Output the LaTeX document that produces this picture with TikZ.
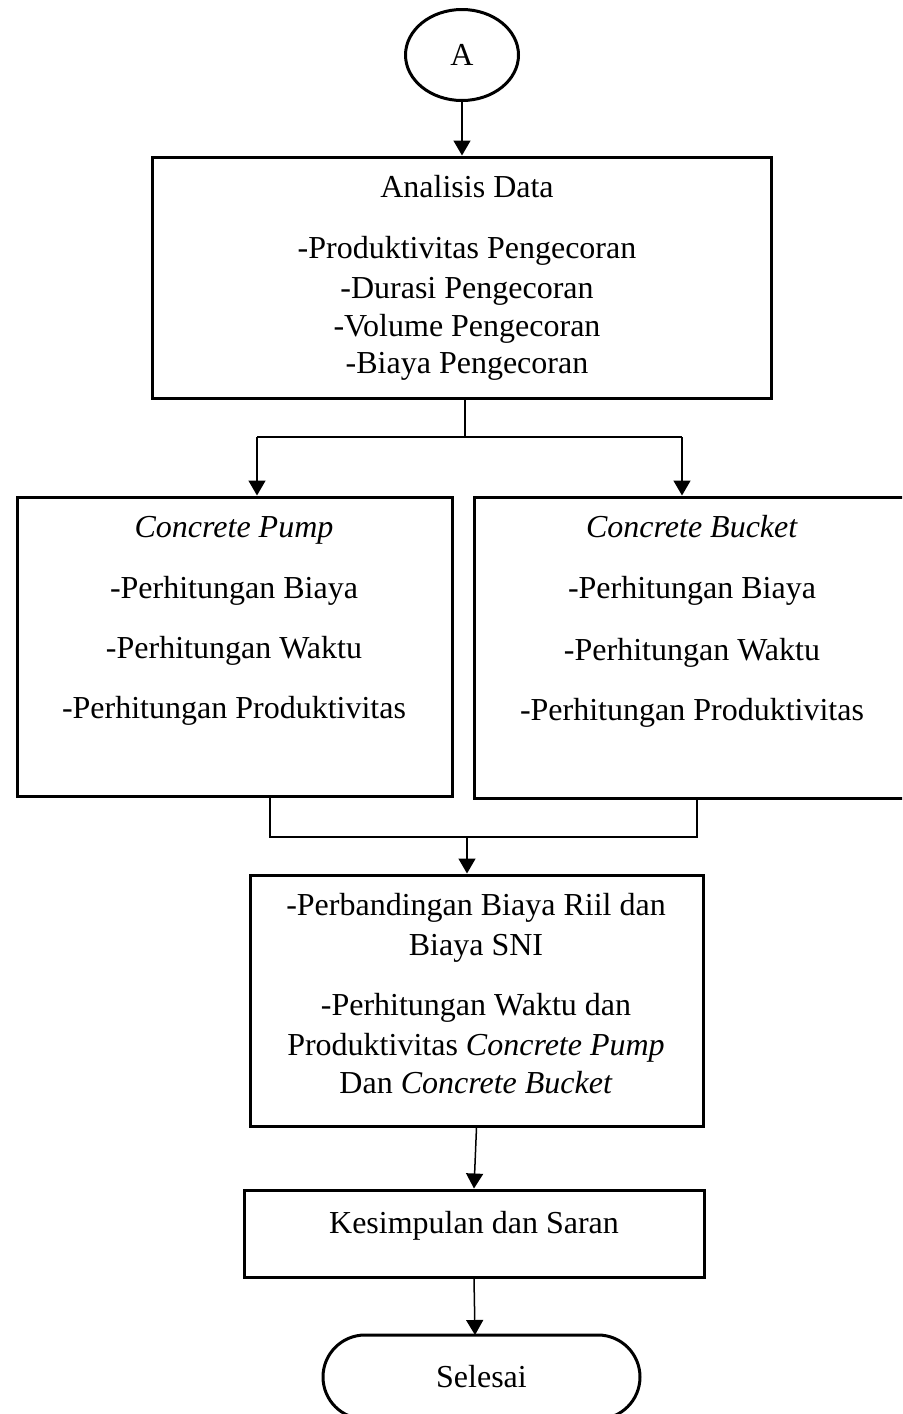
\documentclass[tikz,border=0pt]{standalone}
\usepackage{fontspec}
\setmainfont{Liberation Serif}
\usetikzlibrary{shapes.geometric,shapes.misc,arrows.meta}

\begin{document}
\begin{tikzpicture}[x=0.5pt, y=-0.5pt, >={Triangle[width=8.5pt,length=7.5pt]},
  box/.style={draw, line width=1.5pt, inner sep=0pt},
  txt/.style={anchor=base, inner sep=0pt, font=\fontsize{16}{19}\selectfont},
  line/.style={line width=0.75pt}]
  \useasboundingbox (0,0) rectangle (902,1414);
  \clip (0,0) rectangle (902,1414);

  % Connector A
  \node[box, ellipse, minimum width=56.5pt, minimum height=45.5pt,
        font=\fontsize{16}{19}\selectfont] (A) at (462,55) {A};

  % Analisis data
  \node[box, minimum width=309.5pt, minimum height=120.5pt] (analisis) at (461.5,277.5) {};
  \node[txt] (ana1) at (467,197) {Analisis Data};
  \node[txt] (ana2) at (467,258) {-Produktivitas Pengecoran};
  \node[txt] (ana3) at (467,298) {-Durasi Pengecoran};
  \node[txt] (ana4) at (467,336) {-Volume Pengecoran};
  \node[txt] (ana5) at (467,373) {-Biaya Pengecoran};

  % Concrete pump and concrete bucket
  \node[box, minimum width=217.5pt, minimum height=149.5pt] (pump) at (234.5,646.5) {};
  \node[txt] (pump1) at (234,537) {\textit{Concrete Pump}};
  \node[txt] (pump2) at (234,598) {-Perhitungan Biaya};
  \node[txt] (pump3) at (234,658) {-Perhitungan Waktu};
  \node[txt] (pump4) at (234,718) {-Perhitungan Produktivitas};

  \node[box, minimum width=228pt, minimum height=150.5pt] (bucket) at (702,647.5) {};
  \node[txt] (bucket1) at (692,537) {\textit{Concrete Bucket}};
  \node[txt] (bucket2) at (692,598) {-Perhitungan Biaya};
  \node[txt] (bucket3) at (692,660) {-Perhitungan Waktu};
  \node[txt] (bucket4) at (692,720) {-Perhitungan Produktivitas};

  % Perbandingan
  \node[box, minimum width=226.5pt, minimum height=125.5pt] (compare) at (476.5,1000.5) {};
  \node[txt] (cmp1) at (476,915) {-Perbandingan Biaya Riil dan};
  \node[txt] (cmp2) at (476,955) {Biaya SNI};
  \node[txt] (cmp3) at (476,1015) {-Perhitungan Waktu dan};
  \node[txt] (cmp4) at (476,1055) {Produktivitas \textit{Concrete Pump}};
  \node[txt] (cmp5) at (476,1093) {Dan \textit{Concrete Bucket}};

  % Kesimpulan dan saran
  \node[box, minimum width=230pt, minimum height=43.5pt] (kesimpulan) at (474,1233.5) {};
  \node[txt] (kes1) at (474,1233) {Kesimpulan dan Saran};

  % Selesai
  \node[box, rounded rectangle, minimum width=158.5pt, minimum height=42pt,
        font=\fontsize{16}{19}\selectfont] (selesai) at (481.5,1377) {Selesai};

  % Junction points
  \coordinate (split) at (465,437);
  \coordinate (splitL) at (257,437);
  \coordinate (splitR) at (682,437);
  \coordinate (join) at (467,837);
  \coordinate (joinL) at (270,837);
  \coordinate (joinR) at (697,837);
  \coordinate (end) at (475,1335);

  % Connectors
  \draw[line, ->] (A.south) -- (A.south |- analisis.north);
  \draw[line] (split |- analisis.south) -- (split);
  \draw[line] (splitL) -- (splitR);
  \draw[line, ->] (splitL) -- (splitL |- pump.north);
  \draw[line, ->] (splitR) -- (splitR |- bucket.north);
  \draw[line] (joinL |- pump.south) -- (joinL) -- (joinR) -- (joinR |- bucket.south);
  \draw[line, ->] (join) -- (join |- compare.north);
  \draw[line, ->] (compare.south) -- (kesimpulan.north);
  \draw[line, ->] (kesimpulan.south) -- (end);
\end{tikzpicture}
\end{document}
